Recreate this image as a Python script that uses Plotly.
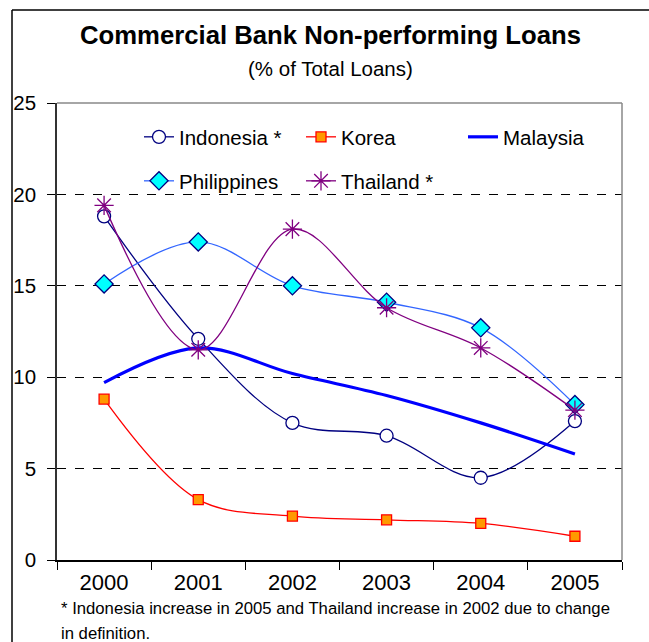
import plotly.graph_objects as go

years = ["2000", "2001", "2002", "2003", "2004", "2005"]
indonesia = [18.8, 12.1, 7.5, 6.8, 4.5, 7.6]
korea = [8.8, 3.3, 2.4, 2.2, 2.0, 1.3]
malaysia = [9.7, 11.6, 10.2, 9.0, 7.5, 5.8]
philippines = [15.1, 17.4, 15.0, 14.1, 12.7, 8.5]
thailand = [19.4, 11.5, 18.1, 13.8, 11.6, 8.2]

W, H = 649, 642
L, R, T, B = 57, 622, 103, 560

def px(x):
    return (x - L) / (R - L)

def py(y):
    return (B - y) / (B - T)

fig = go.Figure()
FONT = "Liberation Sans, Arial, sans-serif"

fig.add_trace(go.Scatter(
    x=years, y=indonesia, name="Indonesia *", mode="lines+markers",
    line=dict(color="#000080", width=1.3, shape="spline"),
    marker=dict(symbol="circle", size=13, color="white", line=dict(color="#000080", width=1.3)),
    legend="legend"))
fig.add_trace(go.Scatter(
    x=years, y=korea, name="Korea", mode="lines+markers",
    line=dict(color="#FF0000", width=1.3, shape="spline"),
    marker=dict(symbol="square", size=10, color="#FF9900", line=dict(color="#FF0000", width=1.3)),
    legend="legend"))
fig.add_trace(go.Scatter(
    x=years, y=malaysia, name="Malaysia", mode="lines",
    line=dict(color="#0000FF", width=3.2, shape="spline"),
    legend="legend"))
fig.add_trace(go.Scatter(
    x=years, y=philippines, name="Philippines", mode="lines+markers",
    line=dict(color="#3366FF", width=1.3, shape="spline"),
    marker=dict(symbol="diamond", size=14, color="#00FFFF", line=dict(color="#000080", width=1.3)),
    legend="legend2"))
fig.add_trace(go.Scatter(
    x=years, y=thailand, name="Thailand *", mode="lines+markers",
    line=dict(color="#800080", width=1.3, shape="spline"),
    marker=dict(symbol="asterisk-open", size=16, color="#800080", line=dict(color="#800080", width=1.3)),
    legend="legend2"))

fig.update_layout(
    width=W, height=H,
    margin=dict(l=L, r=W - R, t=T, b=H - B),
    paper_bgcolor="white", plot_bgcolor="white",
    font=dict(family=FONT, color="black"),
    showlegend=True,
    legend=dict(orientation="h", x=px(139), y=py(137), xanchor="left", yanchor="middle",
                entrywidth=117, font=dict(size=20.5, family=FONT), bgcolor="rgba(0,0,0,0)",
                traceorder="normal"),
    legend2=dict(orientation="h", x=px(139), y=py(181), xanchor="left", yanchor="middle",
                 entrywidth=117, font=dict(size=20.5, family=FONT), bgcolor="rgba(0,0,0,0)",
                 traceorder="normal"),
    xaxis=dict(type="category", tickson="boundaries", ticks="outside", ticklen=8,
               tickcolor="black", showline=True, linecolor="black", linewidth=1.5,
               showgrid=False, tickfont=dict(size=22, family=FONT), range=[-0.5, 5.5],
               ticklabelstandoff=2),
    yaxis=dict(range=[0, 25], tickvals=[0, 5, 10, 15, 20, 25], ticks="outside", ticklen=8,
               tickcolor="black", showline=True, linecolor="#333333", linewidth=1.5,
               showgrid=True, gridcolor="black", griddash="dash", gridwidth=1,
               zeroline=False, tickfont=dict(size=20.5, family=FONT), ticklabelstandoff=7),
)

# plot frame: gray top and right
fig.add_shape(type="line", xref="paper", yref="paper", x0=0, x1=1, y0=1, y1=1,
              line=dict(color="#888888", width=1.5))
fig.add_shape(type="line", xref="paper", yref="paper", x0=1, x1=1, y0=0, y1=1,
              line=dict(color="#888888", width=1.5))
# outer chart border
fig.add_shape(type="line", xref="paper", yref="paper", x0=px(12), x1=px(660), y0=py(10), y1=py(10),
              line=dict(color="black", width=1.5))
fig.add_shape(type="line", xref="paper", yref="paper", x0=px(12), x1=px(12), y0=py(10), y1=py(660),
              line=dict(color="black", width=1.5))

fig.add_annotation(text="<b>Commercial Bank Non-performing Loans</b>", xref="paper", yref="paper",
                   x=px(330), y=py(35), showarrow=False, font=dict(size=25.7, family=FONT),
                   xanchor="center", yanchor="middle")
fig.add_annotation(text="(% of Total Loans)", xref="paper", yref="paper",
                   x=px(330), y=py(68), showarrow=False, font=dict(size=20.5, family=FONT),
                   xanchor="center", yanchor="middle")
fig.add_annotation(text="* Indonesia increase in 2005 and Thailand increase in 2002 due to change",
                   xref="paper", yref="paper", x=px(59), y=py(608), showarrow=False,
                   font=dict(size=16.7, family=FONT), xanchor="left", yanchor="middle", align="left")
fig.add_annotation(text="in definition.",
                   xref="paper", yref="paper", x=px(59), y=py(633), showarrow=False,
                   font=dict(size=16.7, family=FONT), xanchor="left", yanchor="middle", align="left")

fig.write_html("out.html")
